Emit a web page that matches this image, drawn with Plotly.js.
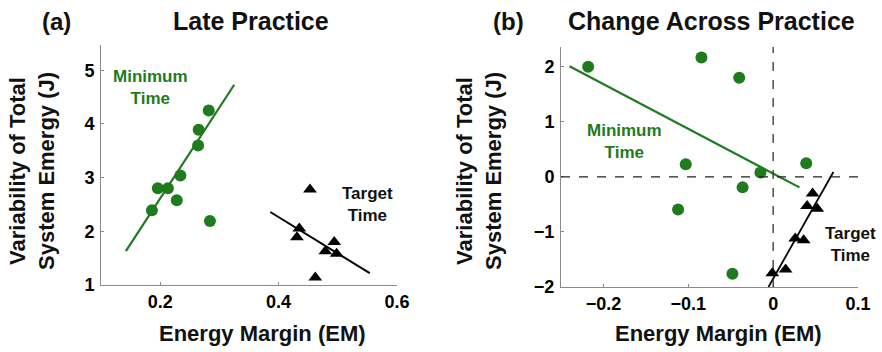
<!DOCTYPE html>
<html>
<head>
<meta charset="utf-8">
<script src="https://cdn.plot.ly/plotly-3.0.1.min.js"></script>
<style>html,body{margin:0;padding:0;background:#fff;}#chart{width:882px;height:352px;}</style>
</head>
<body>
<div id="chart"></div>
<script>
// ---- Panel (a): Late Practice ----
const aMinTimeEM   = [0.186, 0.196, 0.213, 0.228, 0.234, 0.264, 0.265, 0.282, 0.284];
const aMinTimeVar  = [2.39, 2.80, 2.80, 2.58, 3.04, 3.60, 3.89, 4.25, 2.19];
const aTargetEM    = [0.453, 0.435, 0.431, 0.494, 0.479, 0.498, 0.462];
const aTargetVar   = [2.78, 2.05, 1.89, 1.80, 1.63, 1.58, 1.14];
const aMinFitEM    = [0.142, 0.325];
const aMinFitVar   = [1.63, 4.73];
const aTgtFitEM    = [0.386, 0.554];
const aTgtFitVar   = [2.36, 1.22];
const aXTicks      = [0.2, 0.4, 0.6];
const aYTicks      = [1, 2, 3, 4, 5];

// ---- Panel (b): Change Across Practice ----
const bMinTimeEM   = [-0.218, -0.0845, -0.040, -0.103, -0.015, 0.039, -0.036, -0.112, -0.048];
const bMinTimeVar  = [2.00, 2.17, 1.80, 0.23, 0.08, 0.25, -0.19, -0.59, -1.76];
const bTargetEM    = [0.0465, 0.040, 0.052, 0.026, 0.036, 0.0147, -0.001];
const bTargetVar   = [-0.30, -0.53, -0.58, -1.12, -1.15, -1.68, -1.75];
const bMinFitEM    = [-0.240, 0.031];
const bMinFitVar   = [2.01, -0.19];
const bTgtFitEM    = [-0.0055, 0.071];
const bTgtFitVar   = [-2.0, 0.09];
const bXTicks      = [-0.2, -0.1, 0, 0.1];
const bXTickText   = ['\u22120.2', '\u22120.1', '0', '0.1'];
const bYTicks      = [-2, -1, 0, 1, 2];

const GREEN = '#1e7b1e';
const FONT = 'Liberation Sans, Arial, Helvetica, sans-serif';

const traces = [
  {x: aMinFitEM, y: aMinFitVar, mode: 'lines', line: {color: GREEN, width: 2.2}, xaxis: 'x', yaxis: 'y', hoverinfo: 'skip'},
  {x: aTgtFitEM, y: aTgtFitVar, mode: 'lines', line: {color: '#000', width: 2}, xaxis: 'x', yaxis: 'y', hoverinfo: 'skip'},
  {x: aMinTimeEM, y: aMinTimeVar, mode: 'markers', marker: {color: GREEN, size: 12, symbol: 'circle'}, xaxis: 'x', yaxis: 'y', cliponaxis: false},
  {x: aTargetEM, y: aTargetVar, mode: 'markers', marker: {color: '#000', size: 12, symbol: 'triangle-up'}, xaxis: 'x', yaxis: 'y', cliponaxis: false},
  {x: bMinFitEM, y: bMinFitVar, mode: 'lines', line: {color: GREEN, width: 2.2}, xaxis: 'x2', yaxis: 'y2', hoverinfo: 'skip'},
  {x: bTgtFitEM, y: bTgtFitVar, mode: 'lines', line: {color: '#000', width: 1.8}, xaxis: 'x2', yaxis: 'y2', hoverinfo: 'skip'},
  {x: bMinTimeEM, y: bMinTimeVar, mode: 'markers', marker: {color: GREEN, size: 12, symbol: 'circle'}, xaxis: 'x2', yaxis: 'y2', cliponaxis: false},
  {x: bTargetEM, y: bTargetVar, mode: 'markers', marker: {color: '#000', size: 12, symbol: 'triangle-up'}, xaxis: 'x2', yaxis: 'y2', cliponaxis: false}
];

const tickFont = {family: FONT, size: 18, color: '#000', weight: 700};
function axisBase(extra) {
  return Object.assign({
    showgrid: false, zeroline: false, showline: true, linecolor: '#8a8a8a', linewidth: 1,
    ticks: 'inside', ticklen: 3, tickcolor: '#8a8a8a', tickfont: tickFont, fixedrange: true
  }, extra);
}

const px = v => v / 882, py = v => 1 - v / 352;
function ann(text, x, y, size, color, extra) {
  return Object.assign({text: text, xref: 'paper', yref: 'paper', x: px(x), y: py(y), xanchor: 'center', yanchor: 'middle',
    showarrow: false, font: {family: FONT, size: size, color: color, weight: 700}}, extra || {});
}

const layout = {
  width: 882, height: 352,
  margin: {l: 0, r: 0, t: 0, b: 0},
  paper_bgcolor: '#fff', plot_bgcolor: '#fff',
  showlegend: false,
  xaxis: axisBase({domain: [px(101), px(397)], range: [0.1, 0.6], tickvals: aXTicks, ticktext: ['0.2', '0.4', '0.6'], anchor: 'y'}),
  yaxis: axisBase({domain: [py(285), py(45)], range: [1, 5.47], tickvals: aYTicks, anchor: 'x', ticklabelstandoff: 2}),
  xaxis2: axisBase({domain: [px(561), px(858)], range: [-0.25, 0.1], tickvals: bXTicks, ticktext: bXTickText, anchor: 'y2'}),
  yaxis2: axisBase({domain: [py(287), py(47)], range: [-2, 2.36], tickvals: bYTicks, ticktext: ['\u22122', '\u22121', '0', '1', '2'], anchor: 'x2', ticklabelstandoff: 2}),
  shapes: [
    {type: 'line', xref: 'x2', yref: 'y2', x0: -0.25, x1: 0.1, y0: 0, y1: 0, line: {color: '#222', width: 1.2, dash: 'dash'}},
    {type: 'line', xref: 'x2', yref: 'y2', x0: 0, x1: 0, y0: -2, y1: 2.36, line: {color: '#222', width: 1.2, dash: 'dash'}}
  ],
  annotations: [
    ann('(a)', 56, 21, 24, '#111'),
    ann('Late Practice', 251, 21, 25, '#111'),
    ann('(b)', 508, 21, 24, '#111'),
    ann('Change Across Practice', 711, 21, 25, '#111'),
    ann('Variability of Total<br>System Emergy (J)', 32, 171, 22, '#111', {textangle: -90}),
    ann('Variability of Total<br>System Emergy (J)', 479, 171, 22, '#111', {textangle: -90}),
    ann('Energy Margin (EM)', 262, 333, 22, '#111'),
    ann('Energy Margin (EM)', 718, 333, 22, '#111'),
    ann('Minimum<br>Time', 150, 87, 17, GREEN),
    ann('Target<br>Time', 367, 204, 17, '#111'),
    ann('Minimum<br>Time', 624, 141, 17, GREEN),
    ann('Target<br>Time', 850, 244, 17, '#111')
  ]
};

Plotly.newPlot('chart', traces, layout, {displayModeBar: false, staticPlot: true});
</script>
</body>
</html>
